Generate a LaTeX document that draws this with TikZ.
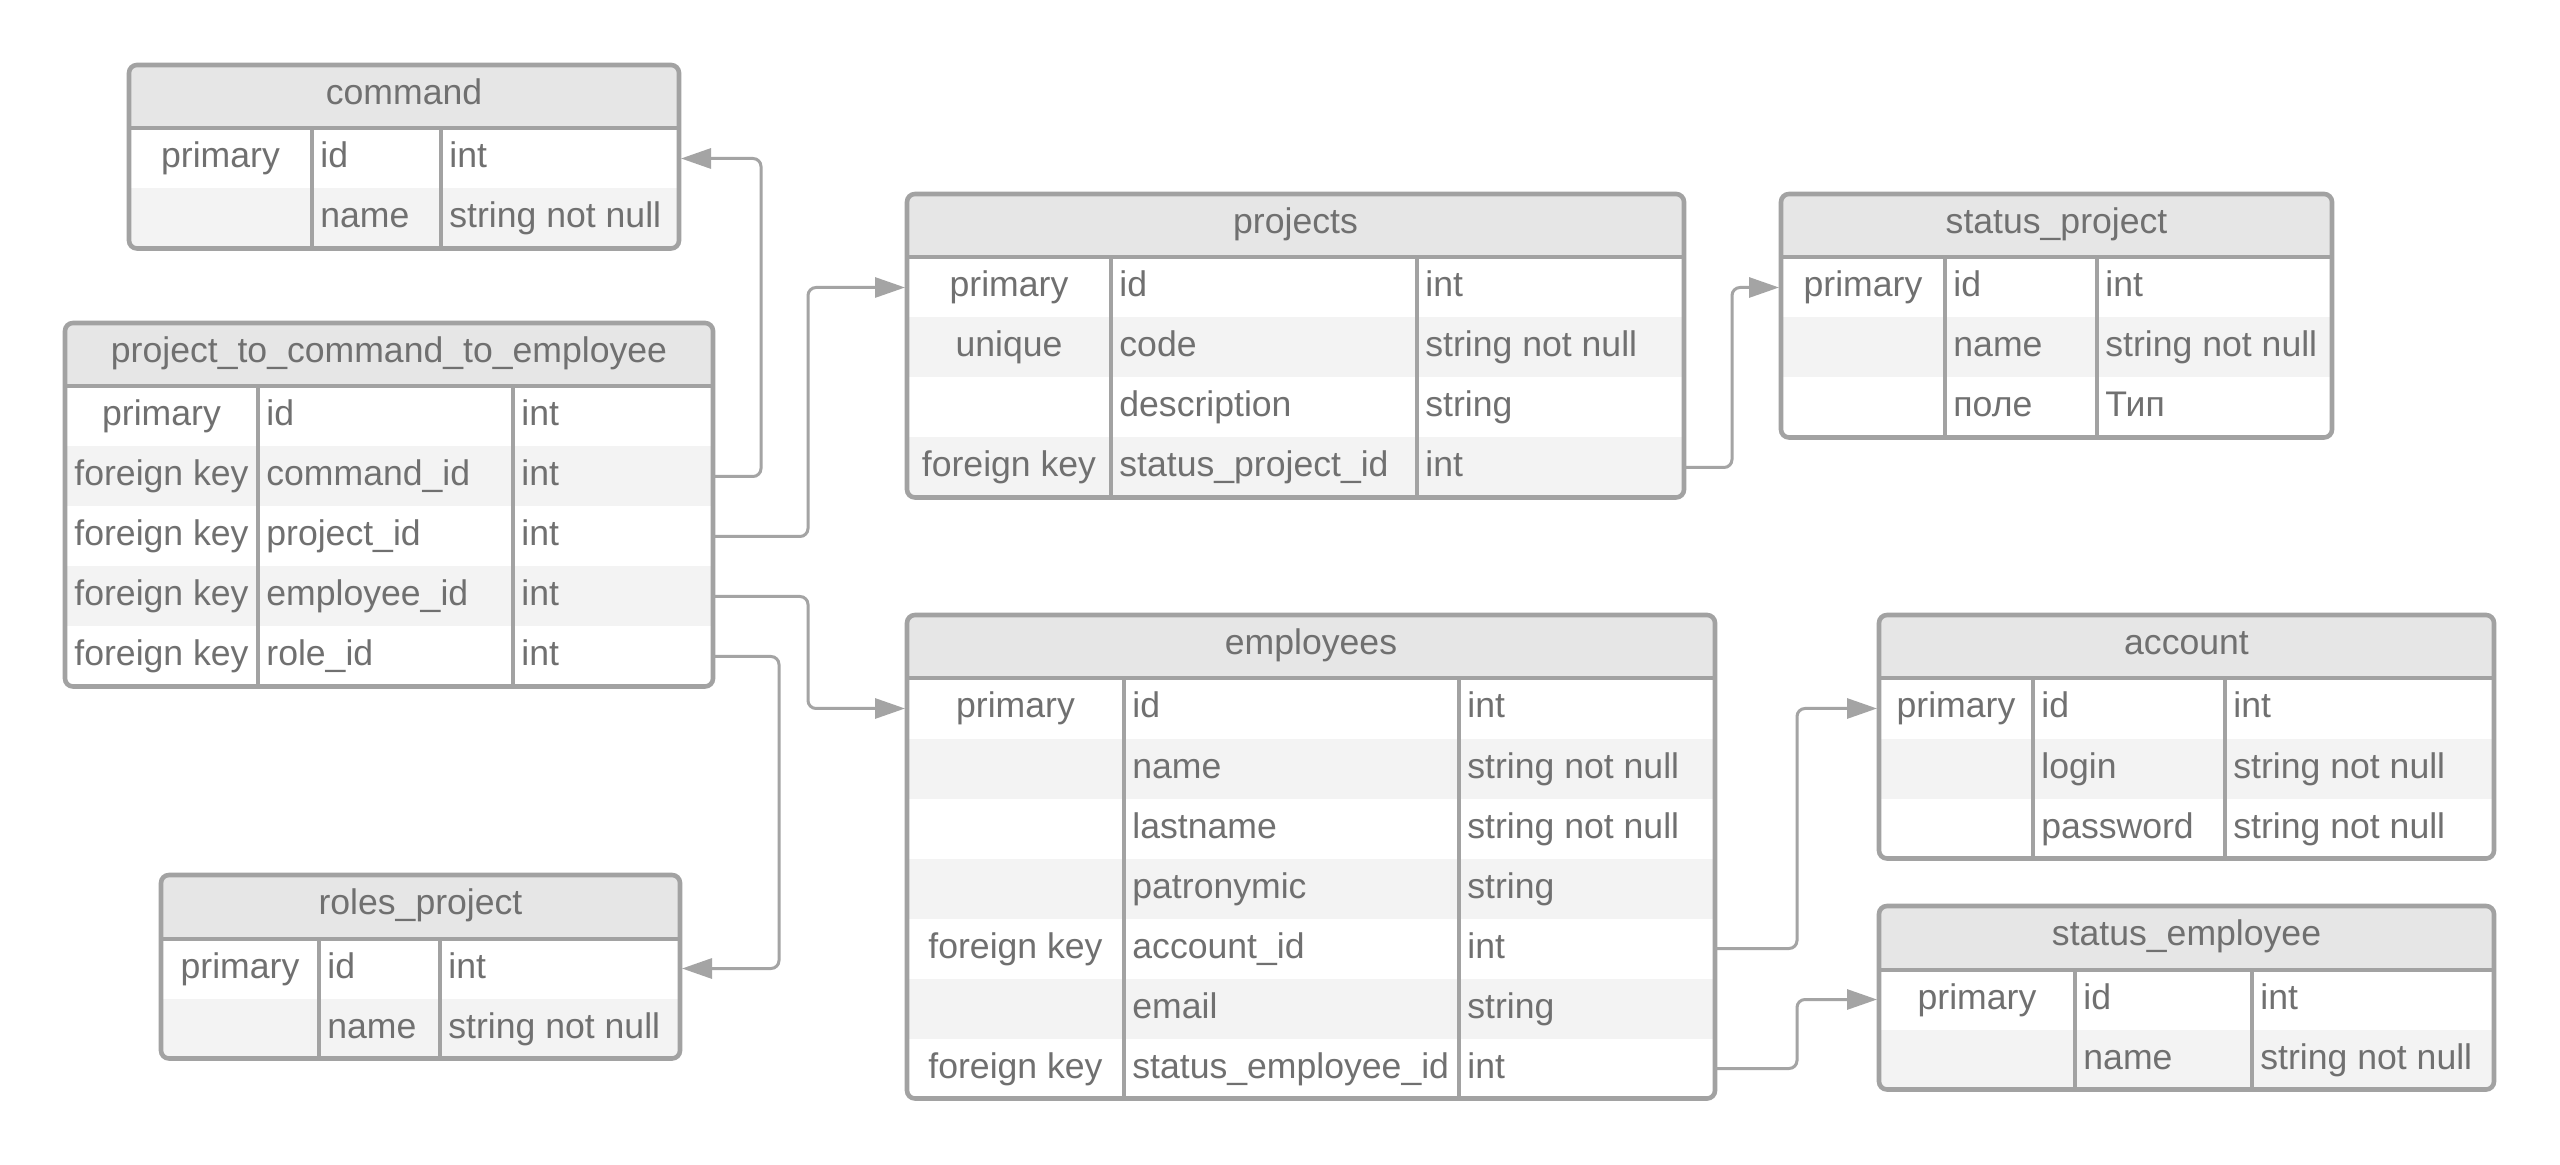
\documentclass[tikz,border=0pt]{standalone}
\usepackage{fontspec}
\setmainfont{Liberation Sans}
\usetikzlibrary{arrows.meta}
\definecolor{bordergray}{HTML}{A2A2A2}
\definecolor{headfill}{HTML}{E6E6E6}
\definecolor{rowgray}{HTML}{F3F3F3}
\definecolor{txtgray}{HTML}{707070}
\definecolor{linegray}{HTML}{A4A4A4}
\tikzset{
  txt/.style={text=txtgray, inner sep=0pt, font=\fontsize{17.8}{20}\selectfont},
  keytxt/.style={txt, anchor=base},
  celltxt/.style={txt, anchor=base west},
  titletxt/.style={txt, anchor=base},
  tabframe/.style={draw=bordergray, line width=2.3pt, rounded corners=4pt},
  coldiv/.style={draw=bordergray, line width=2pt},
  conn/.style={draw=linegray, line width=1.5pt, rounded corners=4pt,
    -{Triangle[length=15pt,width=10pt]}, shorten >=1pt},
}
% #1 name, #2 left, #3 top, #4 divider1, #5 divider2, #6 right, #7 rows, #8 title, #9 row list
\newcommand{\erdtable}[9]{%
  \pgfmathsetmacro\hb{#3+63.5}%
  \pgfmathsetmacro\tb{#3+63.5+60*#7}%
  \begin{scope}
    \clip[rounded corners=4pt] (#2,#3) rectangle (#6,\tb);
    \fill[white] (#2,#3) rectangle (#6,\tb);
    \fill[headfill] (#2,#3) rectangle (#6,\hb);
    \foreach \i in {1,...,#7} {
      \pgfmathsetmacro\ya{\hb+(\i-1)*60}
      \pgfmathsetmacro\yb{\hb+\i*60}
      \ifodd\i\else\fill[rowgray] (#2,\ya) rectangle (#6,\yb);\fi
    }
  \end{scope}
  \draw[coldiv] (#2,\hb) -- (#6,\hb);
  \draw[coldiv] (#4,\hb) -- (#4,\tb);
  \draw[coldiv] (#5,\hb) -- (#5,\tb);
  \draw[tabframe] (#2,#3) rectangle (#6,\tb);
  \node[titletxt] (#1-title) at ({(#2+#6)/2},{#3+39.5}) {#8};
  \foreach [count=\i] \keyname/\colname/\coltype in {#9} {
    \pgfmathsetmacro\ym{\hb+(\i-0.5)*60}
    \node[keytxt] (#1-\i-k) at ({(#2+#4)/2},{\ym+9.5}) {\keyname};
    \node[celltxt] (#1-\i-n) at ({#4+8},{\ym+9.5}) {\colname};
    \node[celltxt] (#1-\i-t) at ({#5+8},{\ym+9.5}) {\coltype};
    \coordinate (#1-\i-w) at (#2,\ym);
    \coordinate (#1-\i-e) at (#6,\ym);
  }
}
\begin{document}
\begin{tikzpicture}[x=0.5pt,y=-0.5pt]
\fill[white] (0,0) rectangle (2560,1165);
\useasboundingbox (0,0) rectangle (2560,1165);

\erdtable{command}{129}{65}{312}{441}{679}{2}{command}{primary/id/int, /name/string not null}
\erdtable{ptce}{65}{323}{258}{513}{713}{5}{project\_to\_command\_to\_employee}{primary/id/int, foreign key/command\_id/int, foreign key/project\_id/int, foreign key/employee\_id/int, foreign key/role\_id/int}
\erdtable{roles}{161}{875}{319}{440}{680}{2}{roles\_project}{primary/id/int, /name/string not null}
\erdtable{projects}{907}{194}{1111}{1417}{1684}{4}{projects}{primary/id/int, unique/code/string not null, /description/string, foreign key/status\_project\_id/int}
\erdtable{statusp}{1781}{194}{1945}{2097}{2332}{3}{status\_project}{primary/id/int, /name/string not null, /поле/Тип}
\erdtable{employees}{907}{615}{1124}{1459}{1715}{7}{employees}{primary/id/int, /name/string not null, /lastname/string not null, /patronymic/string, foreign key/account\_id/int, /email/string, foreign key/status\_employee\_id/int}
\erdtable{account}{1879}{615}{2033}{2225}{2494}{3}{account}{primary/id/int, /login/string not null, /password/string not null}
\erdtable{statuse}{1879}{906}{2075}{2252}{2494}{2}{status\_employee}{primary/id/int, /name/string not null}

\draw[conn] (ptce-2-e) -- ++(48,0) |- (command-1-e);
\draw[conn] (ptce-3-e) -- ++(95,0) |- (projects-1-w);
\draw[conn] (ptce-4-e) -- ++(95,0) |- (employees-1-w);
\draw[conn] (ptce-5-e) -- ++(66,0) |- (roles-1-e);
\draw[conn] (projects-4-e) -- ++(48,0) |- (statusp-1-w);
\draw[conn] (employees-5-e) -- ++(82,0) |- (account-1-w);
\draw[conn] (employees-7-e) -- ++(82,0) |- (statuse-1-w);
\end{tikzpicture}
\end{document}
